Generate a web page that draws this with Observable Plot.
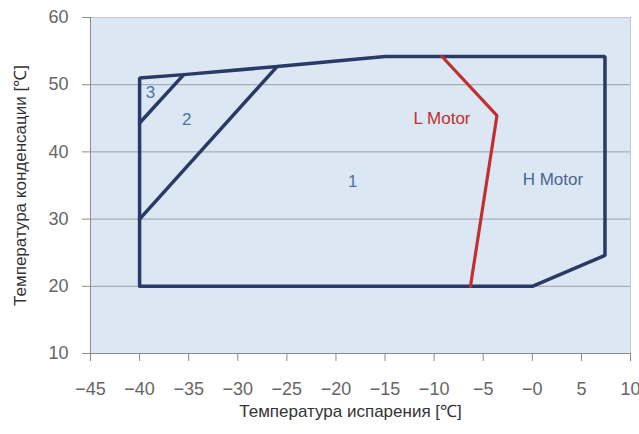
<!DOCTYPE html>
<html>
<head>
<meta charset="utf-8">
<script src="https://cdn.jsdelivr.net/npm/d3@7"></script>
<script src="https://cdn.jsdelivr.net/npm/@observablehq/plot@0.6"></script>
<style>
  html, body { margin: 0; padding: 0; background: #fff; }
  #chart svg { display: block; }
</style>
</head>
<body>
<div id="chart"></div>
<script>
// Axis ticks
const xTicks = [-45, -40, -35, -30, -25, -20, -15, -10, -5, 0, 5, 10];
const xTickLabels = ["−45", "−40", "−35", "−30", "−25", "−20", "−15", "−10", "−5", "−0", "5", "10"];
const yTicks = [10, 20, 30, 40, 50, 60];
const gridValues = [20, 30, 40, 50];

// Outer envelope (H Motor)
const outerX = [-40, -40, -35.5, -26, -15, 7.4, 7.4, 0, -40];
const outerY = [20, 51, 51.5, 52.7, 54.2, 54.2, 24.6, 20, 20];
// Zone boundaries
const line2X = [-40, -26];
const line2Y = [30, 52.7];
const line3X = [-40, -35.5];
const line3Y = [44.3, 51.5];
// L Motor boundary
const lMotorX = [-9.2, -3.6, -6.3];
const lMotorY = [54.2, 45.4, 20];

// Labels
const zoneLabels = ["3", "2", "1"];
const zoneLabelX = [-38.9, -35.2, -18.3];
const zoneLabelY = [48.8, 44.8, 35.6];
const motorLabels = ["L Motor", "H Motor"];
const motorLabelX = [-9.2, 2.1];
const motorLabelY = [44.9, 35.9];

const xTitle = "Температура испарения [℃]";
const yTitle = "Температура конденсации [℃]";

const toPts = (xs, ys) => xs.map((x, i) => ({x, y: ys[i]}));
const outer = toPts(outerX, outerY);
const l2 = toPts(line2X, line2Y);
const l3 = toPts(line3X, line3Y);
const lm = toPts(lMotorX, lMotorY);
const zones = zoneLabels.map((t, i) => ({t, x: zoneLabelX[i], y: zoneLabelY[i]}));
const motors = motorLabels.map((t, i) => ({t, x: motorLabelX[i], y: motorLabelY[i]}));

const navy = "#2b3966";
const chart = Plot.plot({
  width: 639,
  height: 434,
  marginLeft: 90,
  marginRight: 9,
  marginTop: 17,
  marginBottom: 81,
  style: {fontFamily: "Liberation Sans, Arial, sans-serif", background: "#fff"},
  x: {domain: [-45, 10]},
  y: {domain: [10, 60]},
  marks: [
    Plot.frame({fill: "#dbe8f4", stroke: "#c4c8cc"}),
    Plot.gridY(gridValues, {stroke: "#9aa0a6", strokeOpacity: 1, strokeWidth: 1}),
    Plot.ruleX([-45], {stroke: "#8a8a8a"}),
    Plot.ruleY([10], {stroke: "#8a8a8a"}),
    Plot.axisX(xTicks, {tickFormat: (d) => xTickLabels[xTicks.indexOf(d)], tickSize: 8, tickPadding: 21, fontSize: 18, fill: "#666", stroke: "#8a8a8a", label: null}),
    Plot.axisY(yTicks, {tickSize: 8, tickPadding: 14, fontSize: 18, fill: "#666", stroke: "#8a8a8a", label: null}),
    Plot.line(outer, {x: "x", y: "y", stroke: navy, strokeWidth: 3.5, strokeLinejoin: "miter"}),
    Plot.line(l2, {x: "x", y: "y", stroke: navy, strokeWidth: 3.5}),
    Plot.line(l3, {x: "x", y: "y", stroke: navy, strokeWidth: 3.5}),
    Plot.line(lm, {x: "x", y: "y", stroke: "#c1302f", strokeWidth: 3.2, strokeLinejoin: "miter"}),
    Plot.text(zones, {x: "x", y: "y", text: "t", fontSize: 17, fill: "#4f72a3"}),
    Plot.text(motors, {x: "x", y: "y", text: "t", fontSize: 17, fill: (d) => d.t === "L Motor" ? "#c1302f" : "#4a6591"}),
    Plot.text([xTitle], {frameAnchor: "bottom", dx: -10, dy: 58, textAnchor: "middle", lineAnchor: "middle", fontSize: 17, fill: "#333"}),
    Plot.text([yTitle], {frameAnchor: "left", dx: -70, rotate: -90, textAnchor: "middle", lineAnchor: "middle", fontSize: 17, fill: "#333"})
  ]
});
document.getElementById("chart").appendChild(chart);
</script>
</body>
</html>
